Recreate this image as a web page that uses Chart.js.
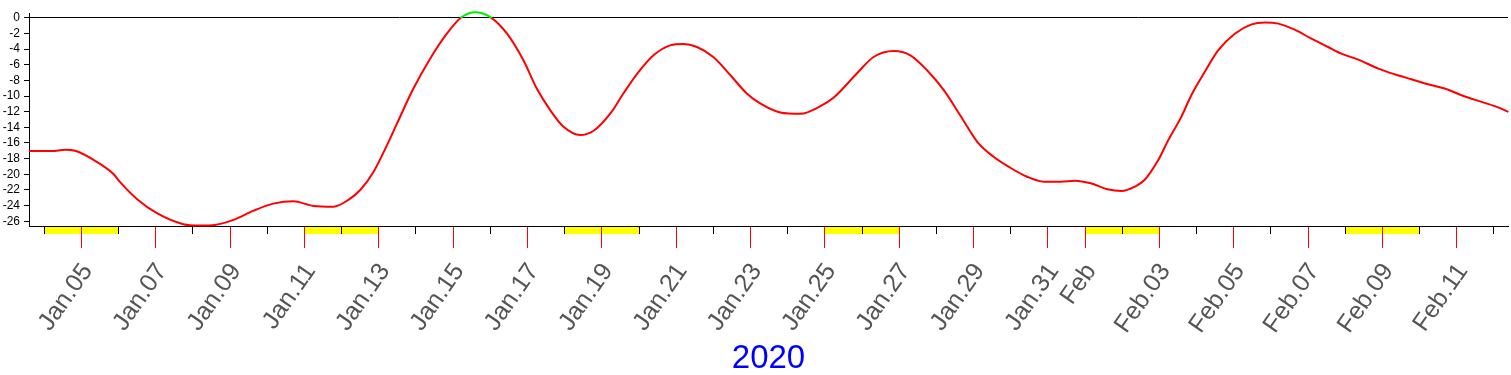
<!DOCTYPE html>
<html>
<head>
<meta charset="utf-8">
<script src="https://cdn.jsdelivr.net/npm/chart.js@4"></script>
<style>
  body { margin: 0; background: #fff; }
  #wrap { width: 1511px; height: 375px; position: relative; }
</style>
</head>
<body>
<div id="wrap"><canvas id="chart"></canvas></div>
<script>
// day number counted from Jan 1 2020 (Feb 1 = 32)
const days = [3.59, 4.2, 4.56, 4.83, 5.41, 5.86, 6.04, 6.49, 7.03, 7.74, 8.19, 8.59, 9.09, 9.63,
  10.16, 10.7, 11.24, 11.78, 12.18, 12.5, 12.86, 13.22, 13.49, 13.93, 14.38, 14.83, 15.23, 15.59,
  16.0, 16.45, 16.89, 17.25, 17.61, 17.97, 18.42, 18.78, 19.23, 19.58, 19.99, 20.39, 20.84, 21.2,
  21.56, 22.0, 22.46, 22.9, 23.26, 23.8, 24.34, 24.88, 25.24, 25.86, 26.31, 26.85, 27.3, 27.75,
  28.2, 28.64, 29.1, 29.54, 29.99, 30.44, 30.89, 31.34, 31.74, 32.15, 32.6, 32.98, 33.34, 33.6,
  33.97, 34.24, 34.59, 34.86, 35.22, 35.58, 36.03, 36.48, 36.84, 37.2, 37.64, 38.09, 38.54, 38.9,
  39.35, 39.89, 40.33, 40.78, 41.23, 41.68, 42.13, 42.58, 43.03, 43.39];
const values = [-17.03, -17.03, -16.86, -17.0, -18.4, -19.96, -21.0, -23.15, -24.97, -26.37, -26.55, -26.46, -25.82, -24.64,
  -23.74, -23.44, -24.04, -24.13, -23.27, -22.0, -19.67, -16.27, -13.5, -9.05, -5.23, -2.04, 0.08, 0.71,
  0.08, -2.04, -5.44, -9.05, -11.8, -13.94, -14.99, -14.44, -12.23, -9.68, -6.93, -4.8, -3.53, -3.36,
  -3.74, -5.02, -7.35, -9.68, -10.95, -12.1, -12.28, -11.3, -10.19, -7.13, -5.02, -4.25, -4.8, -6.71,
  -9.26, -12.45, -15.85, -17.76, -19.16, -20.31, -20.94, -20.94, -20.82, -21.15, -21.9, -22.13, -21.58, -20.73,
  -18.18, -15.63, -12.66, -9.9, -6.93, -4.17, -2.04, -0.85, -0.6, -0.76, -1.53, -2.68, -3.74, -4.59,
  -5.35, -6.5, -7.22, -7.86, -8.5, -9.05, -9.9, -10.62, -11.3, -12.03];

const tickDays = [5, 7, 9, 11, 13, 15, 17, 19, 21, 23, 25, 27, 29, 31, 32, 34, 36, 38, 40, 42];
const tickLabels = ["Jan.05", "Jan.07", "Jan.09", "Jan.11", "Jan.13", "Jan.15", "Jan.17", "Jan.19",
  "Jan.21", "Jan.23", "Jan.25", "Jan.27", "Jan.29", "Jan.31", "Feb", "Feb.03", "Feb.05", "Feb.07",
  "Feb.09", "Feb.11"];
const weekendStarts = [4, 11, 18, 25, 32, 39];
const yearLabel = "2020";

const points = days.map((d, i) => ({ x: d, y: values[i] }));

// same pixel snapping chart.js uses for 1px lines
let snap = (px) => Math.round(px - 0.5) + 0.5;

// yellow weekend blocks + short black day ticks under the axis
const dayMarks = {
  id: "dayMarks",
  beforeDraw(chart) {
    const x = chart.scales.x;
    const c = chart.ctx;
    const top = x.top;
    c.save();
    c.fillStyle = "#ffff00";
    weekendStarts.forEach(d => {
      const a = snap(x.getPixelForValue(d));
      const b = snap(x.getPixelForValue(d + 2));
      c.fillRect(a, top, b - a, 8);
    });
    c.strokeStyle = "#000";
    c.lineWidth = 1;
    x.ticks.forEach(t => {
      if (tickDays.includes(t.value)) return;
      const px = snap(x.getPixelForValue(t.value));
      c.beginPath();
      c.moveTo(px, top);
      c.lineTo(px, top + 8);
      c.stroke();
    });
    c.restore();
  }
};

// red below zero, green above
let lineColor = (ctx) => {
  const chart = ctx.chart;
  const area = chart.chartArea;
  if (!area) return "#ff0000";
  const top = area.top - 20;
  const y0 = chart.scales.y.getPixelForValue(0);
  const stop = Math.min(1, Math.max(0, (y0 - top) / (area.bottom - top)));
  const g = chart.ctx.createLinearGradient(0, top, 0, area.bottom);
  g.addColorStop(0, "#00ee00");
  g.addColorStop(stop, "#00ee00");
  g.addColorStop(stop, "#ff0000");
  g.addColorStop(1, "#ff0000");
  return g;
};

new Chart(document.getElementById("chart"), {
  type: "line",
  data: {
    datasets: [{
      data: points,
      borderColor: lineColor,
      borderWidth: 2,
      pointRadius: 0,
      cubicInterpolationMode: "monotone",
      fill: false,
      clip: false
    }]
  },
  options: {
    responsive: true,
    maintainAspectRatio: false,
    animation: false,
    layout: { padding: { top: 13, right: 3, left: 0, bottom: 0 } },
    plugins: { legend: { display: false }, tooltip: { enabled: false } },
    scales: {
      x: {
        type: "linear",
        min: 3.588,
        max: 43.38,
        afterFit: (scale) => {
          scale.height = 149;
          scale.paddingLeft = 0;
          scale.paddingRight = 0;
        },
        border: { color: "#000", width: 1 },
        grid: {
          drawOnChartArea: false,
          tickLength: 22,
          tickWidth: 1,
          tickColor: (ctx) => tickDays.includes(ctx.tick.value) ? "#ff0000" : "rgba(0,0,0,0)"
        },
        ticks: {
          stepSize: 1,
          includeBounds: false,
          autoSkip: false,
          minRotation: 55,
          maxRotation: 55,
          padding: 10,
          labelOffset: 6,
          color: "#555555",
          font: { family: "'Liberation Sans', Arial, sans-serif", size: 25 },
          callback: (v) => {
            const i = tickDays.indexOf(v);
            return i >= 0 ? tickLabels[i] : "";
          }
        },
        title: {
          display: true,
          text: yearLabel,
          color: "#0000ff",
          padding: { top: 0, bottom: 0 },
          font: { family: "'Liberation Sans', Arial, sans-serif", size: 33, lineHeight: 1 }
        }
      },
      y: {
        min: -26.6,
        max: 0.6,
        afterFit: (scale) => { scale.width = 29; },
        border: { color: "#000", width: 1 },
        grid: {
          color: (ctx) => ctx.tick && ctx.tick.value === 0 ? "#000" : "rgba(0,0,0,0)",
          tickColor: "#000",
          tickLength: 5
        },
        ticks: {
          stepSize: 2,
          includeBounds: false,
          autoSkip: false,
          padding: 4,
          color: "#000",
          font: { family: "'Liberation Sans', Arial, sans-serif", size: 12 }
        }
      }
    }
  },
  plugins: [dayMarks]
});
</script>
</body>
</html>
